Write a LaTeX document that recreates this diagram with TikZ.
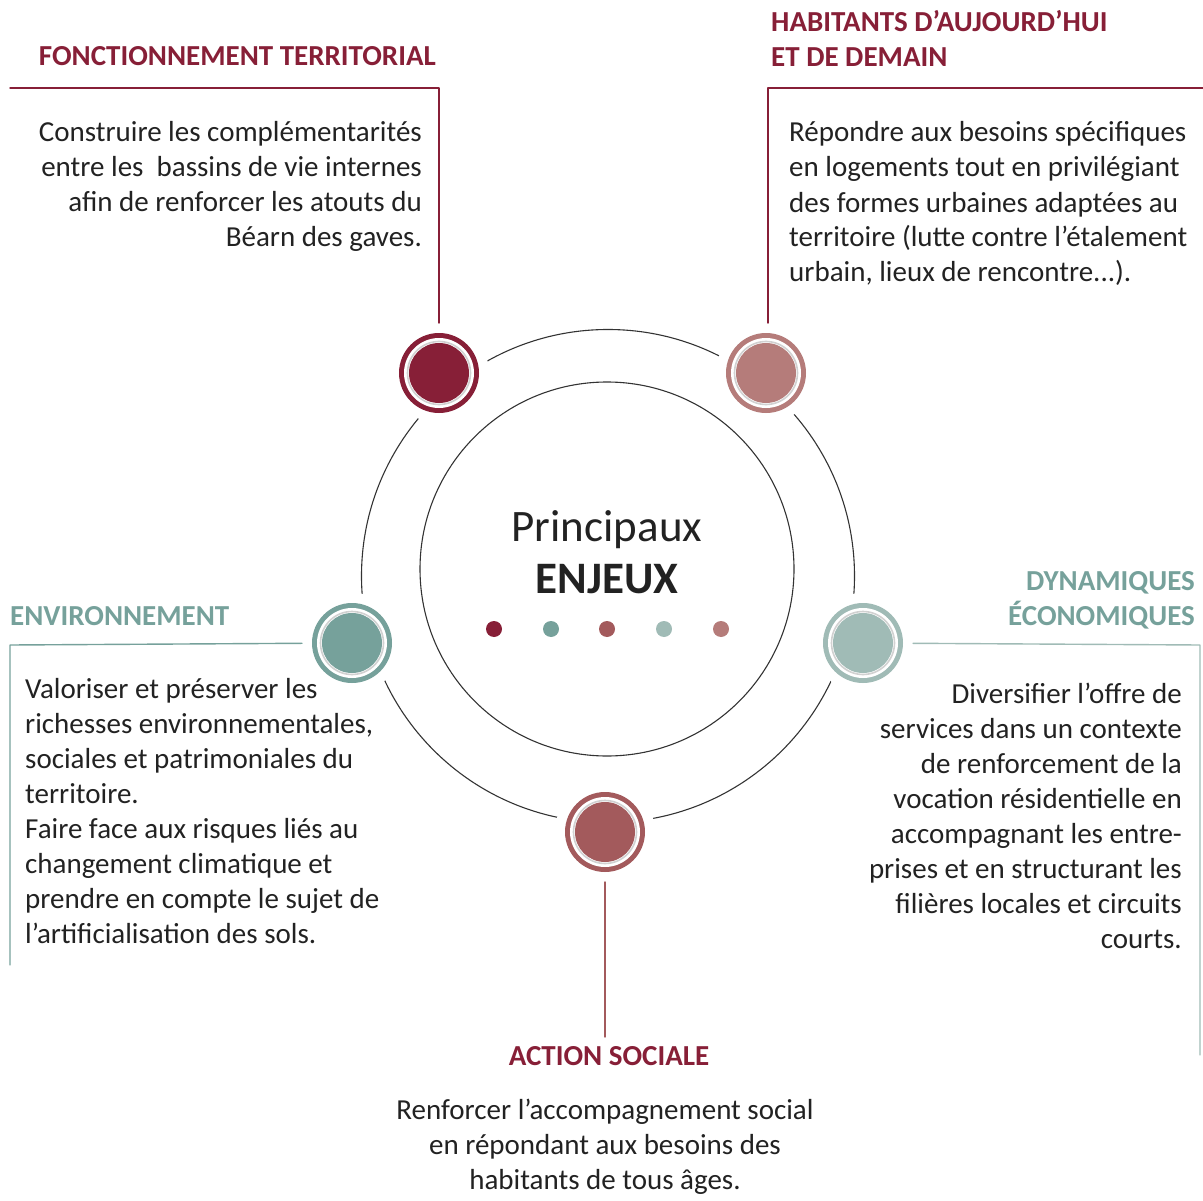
\documentclass[tikz,border=0pt]{standalone}
\usepackage{fontspec}
\setmainfont{Carlito}
\usetikzlibrary{positioning}

\definecolor{crimson}{HTML}{871F37}
\definecolor{rose}{HTML}{B57C7A}
\definecolor{teal}{HTML}{76A19B}
\definecolor{sage}{HTML}{A0BBB6}
\definecolor{brick}{HTML}{A35A5C}
\definecolor{ink}{HTML}{222222}
\definecolor{ringgray}{HTML}{333333}

\tikzset{
  body/.style={font=\fontsize{29}{35}\selectfont, text=ink, inner sep=0pt},
  head/.style={font=\fontsize{29}{35}\selectfont\bfseries, inner sep=0pt},
  enjeu/.style={circle, minimum size=80pt, inner sep=0pt, outer sep=10pt},
  link/.style={line width=1.4pt},
  ringline/.style={line width=1.1pt, draw=ringgray},
}

\begin{document}
\begin{tikzpicture}[x=1pt,y=-1pt,line cap=round,line join=round]
  \useasboundingbox (0,0) rectangle (1203,1201);
  % rings
  \draw[ringline] (608,576) circle (246.5pt);
  \draw[ringline] (607,569) circle (187pt);
  % the five themes
  \foreach \nm/\px/\py/\col in {tl/439/373/crimson, tr/766/373/rose,
      lf/352/643/teal, rt/863/643/sage, bt/605/832/brick}{
    \fill[white] (\px,\py) circle (50pt);
    \node[enjeu, fill=\col] (\nm) at (\px,\py) {};
    \fill[white] (\nm.center) circle (35pt);
    \draw[black!18, line width=1.6pt] (\nm.center) circle (31.5pt);
    \fill[\col] (\nm.center) circle (30pt);
  }
  % connectors
  \coordinate (tlbend) at (439,88);
  \coordinate (tlend) at (10,88);
  \coordinate (trbend) at (768,88);
  \coordinate (trend) at (1203,88);
  \coordinate (lfbend) at (10,645);
  \coordinate (lfend) at (10,965);
  \coordinate (rtbend) at (1200,645);
  \coordinate (rtend) at (1200,1055);
  \coordinate (btend) at (605,1037);
  \draw[link, crimson] (tl) -- (tlbend) -- (tlend);
  \draw[link, crimson] (tr.north -| trbend) -- (trbend) -- (trend);
  \draw[link, teal] (lf) -- (lfbend) -- (lfend);
  \draw[link, sage] (rt) -- (rtbend) -- (rtend);
  \draw[link, brick] (bt) -- (btend);
  % dots
  \foreach \dx/\col in {494/crimson, 551/teal, 607/brick, 664/sage, 721/rose}
    \fill[\col] (\dx,629) circle (8pt);
  % centre
  \node[font=\fontsize{45}{52}\selectfont, text=ink, anchor=base] (principaux) at (607,541) {Principaux};
  \node[font=\fontsize{45}{52}\selectfont\bfseries, text=ink, anchor=base] (enjeux) at (607,593) {ENJEUX};
  % titles
  \node[head, text=crimson, anchor=base east] (tlhead) at (436,66) {FONCTIONNEMENT TERRITORIAL};
  \node[head, text=crimson, anchor=base west, align=left] (trhead) at (771,67) {HABITANTS D’AUJOURD’HUI\\ET DE DEMAIN};
  \node[head, text=teal, anchor=base west] (lfhead) at (10,625) {ENVIRONNEMENT};
  \node[head, text=teal, anchor=base east, align=right] (rthead) at (1195,625) {DYNAMIQUES\\ÉCONOMIQUES};
  \node[head, text=crimson, anchor=base] (bthead) at (609,1065) {ACTION SOCIALE};
  % texts
  \node[body, anchor=base east, align=right] (tltext) at (422,247)
    {Construire les complémentarités\\entre les\ \ bassins de vie internes\\afin de renforcer les atouts du\\Béarn des gaves.};
  \node[body, anchor=base west, align=left] (trtext) at (789,282)
    {Répondre aux besoins spécifiques\\en logements tout en privilégiant\\des formes urbaines adaptées au\\territoire (lutte contre l’étalement\\urbain, lieux de rencontre...).};
  \node[body, anchor=base west, align=left] (lftext) at (25,943)
    {Valoriser et préserver les\\richesses environnementales,\\sociales et patrimoniales du\\territoire.\\Faire face aux risques liés au\\changement climatique et\\prendre en compte le sujet de\\l’artificialisation des sols.};
  \node[body, anchor=base east, align=right] (rttext) at (1182,948)
    {Diversifier l’offre de\\services dans un contexte\\de renforcement de la\\vocation résidentielle en\\accompagnant les entre-\\prises et en structurant les\\filières locales et circuits\\courts.};
  \node[body, anchor=base, align=center] (bttext) at (605,1189)
    {Renforcer l’accompagnement social\\en répondant aux besoins des\\habitants de tous âges.};
\end{tikzpicture}
\end{document}
